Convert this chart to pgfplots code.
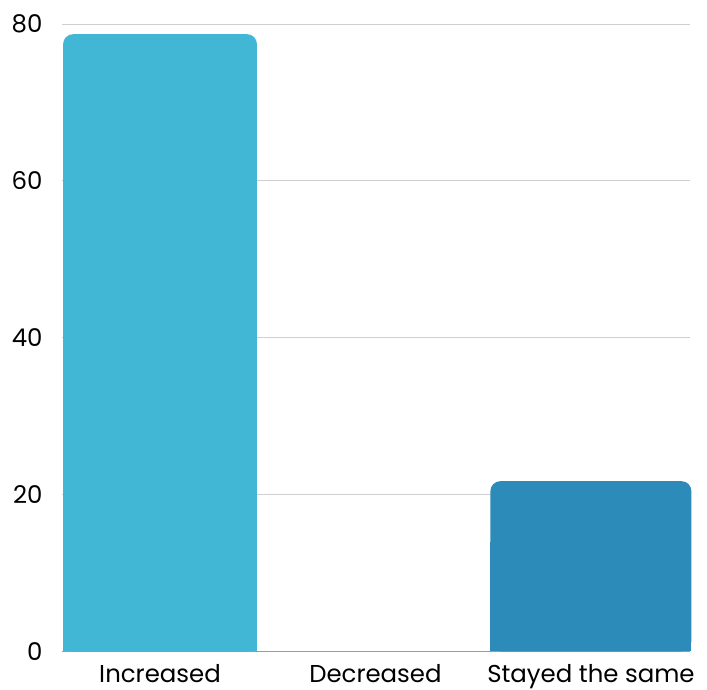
\documentclass[border=0pt]{standalone}
\usepackage{pgfplots}
\pgfplotsset{compat=1.18}
\usepackage{fontspec}
\setmainfont{Poppins}
\definecolor{lightbar}{HTML}{42B7D5}
\definecolor{darkbar}{HTML}{2C8BB9}
\definecolor{gridgray}{HTML}{CFCFCF}
\definecolor{axisgray}{HTML}{9A9A9A}
\begin{document}
\begin{tikzpicture}
\begin{axis}[
  name=ax,
  scale only axis,
  width=628bp, height=627.3bp,
  xmin=-0.455, xmax=2.46,
  ymin=0, ymax=80,
  ytick={0,20,40,60,80},
  xtick={0,1,2},
  xticklabels={Increased,Decreased,Stayed the same},
  axis x line*=bottom,
  axis y line*=left,
  x axis line style={draw=axisgray, line width=0.8bp},
  y axis line style={draw=none},
  ymajorgrids,
  grid style={draw=gridgray, line width=0.8bp},
  major tick length=0pt,
  tick label style={font=\fontsize{24.5}{29}\selectfont, text=black},
  /pgf/number format/assume math mode=true,
  yticklabel style={anchor=east, xshift=-16bp},
  xticklabel style={anchor=north, yshift=-10bp},
  clip=false,
]
% Increased: rounded bar plus a square-cornered base
\addplot[ybar, bar width=0.90, fill=lightbar, draw=none, rounded corners=10bp] coordinates {(0,78.7)};
\addplot[ybar, bar width=0.90, fill=lightbar, draw=none] coordinates {(0,14)};
% Stayed the same
\addplot[ybar, bar width=0.933, fill=darkbar, draw=none, rounded corners=10bp] coordinates {(2,21.7)};
\addplot[ybar, bar width=0.933, fill=darkbar, draw=none] coordinates {(2,14)};
\end{axis}
\pgfresetboundingbox
\path[use as bounding box] ([xshift=-62bp,yshift=-38bp]ax.south west) rectangle ([xshift=17bp,yshift=24bp]ax.north east);
\end{tikzpicture}
\end{document}
